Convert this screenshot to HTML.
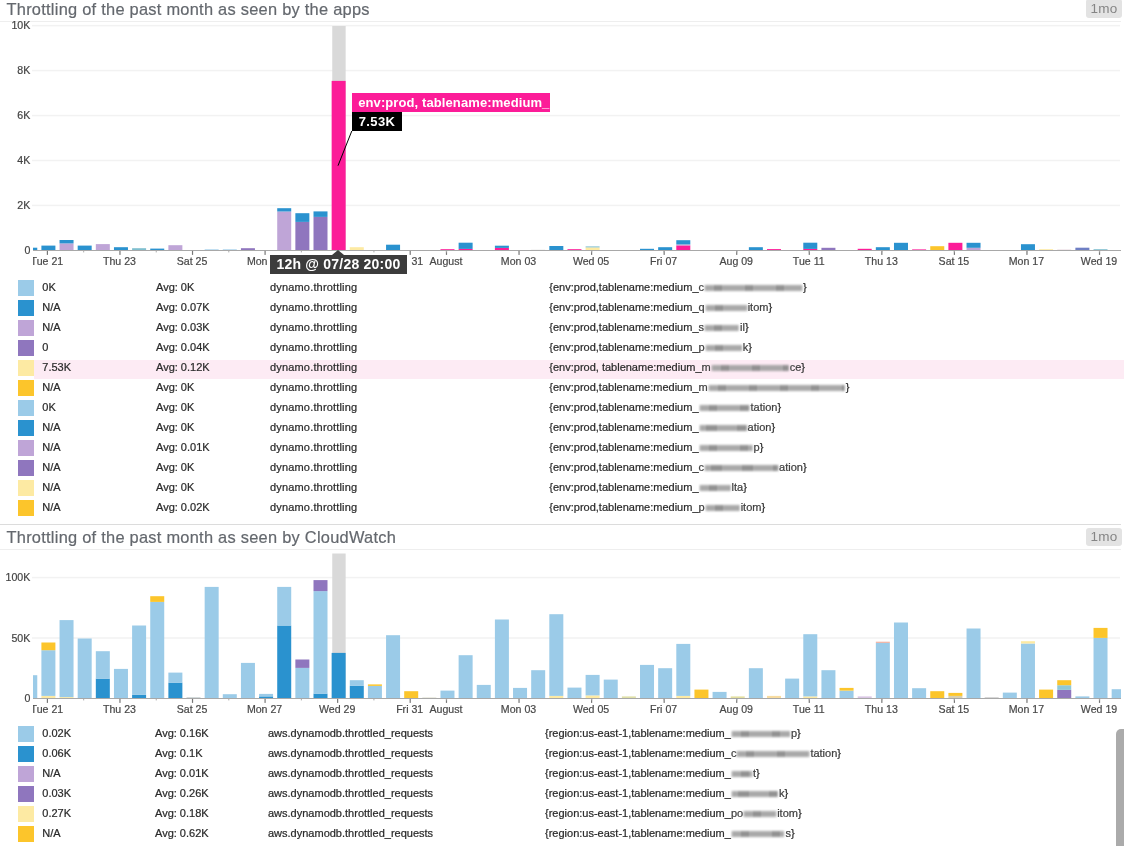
<!DOCTYPE html>
<html lang="en"><head><meta charset="utf-8"><title>Throttling dashboard</title>
<style>
html,body{margin:0;padding:0;background:#fff}
body{width:1124px;height:846px;position:relative;overflow:hidden;font-family:"Liberation Sans",sans-serif;color:#333}
.title{position:absolute;left:6.5px;font-size:16.4px;letter-spacing:.26px;-webkit-text-stroke:.2px #64686e;color:#64686e;white-space:nowrap;line-height:20px}
.badge{position:absolute;left:1086px;width:36px;height:17.5px;background:#e3e3e3;border-radius:3px;color:#858585;font-size:13.5px;line-height:17px;text-align:center;letter-spacing:.3px}
.hr{position:absolute;left:0;width:1121px;height:1px;background:#eeeeee}
.ch{position:absolute;left:0;overflow:visible}
.ch text{font-family:"Liberation Sans",sans-serif}
.xl text{font-size:10.6px;fill:#484848;stroke:#484848;stroke-width:.2px}
.yl text{font-size:10.6px;fill:#444;stroke:#444;stroke-width:.2px}
.leg{position:absolute;left:0;width:1124px;font-size:11px;line-height:20px;color:#2a2a2a;-webkit-text-stroke:.22px #2a2a2a}
.row{position:relative;height:20px;white-space:nowrap}
.row.hl:before{content:"";position:absolute;left:34px;right:0;top:2px;height:19px;background:#fdebf4}
.row span{position:absolute;top:-1.2px}
.row .sw{left:18px;top:2px;width:16.2px;height:16px}
.row .c1{left:42.3px}
.row .c4 .sm{position:static;color:#484848}
.row .c3{letter-spacing:.17px}
.l2 .c3{letter-spacing:0}
.bl{display:inline-block;height:6.5px;background:repeating-linear-gradient(90deg,#6e6e6e 0,#6e6e6e 1.3px,#b9b9b9 1.3px,#b9b9b9 3.1px);filter:blur(.8px);opacity:.9;vertical-align:-0.6px;margin:0 1px}
.tip1{position:absolute;left:351.6px;top:92.6px;width:198.6px;height:19.2px;background:#fc1c98;color:#fff;font-weight:bold;font-size:13px;line-height:19px;letter-spacing:.1px;white-space:nowrap;overflow:hidden}
.tip1 span{position:absolute;left:6.6px;top:.5px}
.tip2{position:absolute;left:351.6px;top:111.8px;width:50px;height:19.2px;background:#000;color:#fff;font-weight:bold;font-size:13px;line-height:19px;letter-spacing:.35px;white-space:nowrap}
.tip2 span{position:absolute;left:7.2px;top:.5px}
.xt{position:absolute;left:269.7px;top:255px;width:137.6px;height:19.2px;background:#3c3c3c;color:#fff;font-weight:bold;font-size:14px;line-height:19px;letter-spacing:.22px;white-space:nowrap;text-align:center;box-shadow:2.5px 0 0 #fff}
.xt:before{content:"";position:absolute;left:62.5px;top:-5.3px;border-left:6px solid transparent;border-right:6px solid transparent;border-bottom:5.4px solid #3c3c3c}
.sb{position:absolute;left:1116px;top:728.5px;width:13px;height:130px;border-radius:5px;background:#ababab}
</style></head>
<body>
<div class="title" style="top:-1.5px">Throttling of the past month as seen by the apps</div>
<div class="badge" style="top:-1px;height:18.5px;line-height:19px">1mo</div>
<div class="hr" style="top:20.5px"></div>
<svg class="ch" style="top:22px" width="1124" height="256" viewBox="0 22 1124 256">
<defs><clipPath id="cp1"><rect x="33" y="22" width="1088" height="256"/></clipPath></defs>
<rect x="32" y="204.7" width="1088" height="1.5" fill="#f2f2f2"/>
<rect x="32" y="159.75" width="1088" height="1.5" fill="#f2f2f2"/>
<rect x="32" y="114.79999999999998" width="1088" height="1.5" fill="#f2f2f2"/>
<rect x="32" y="69.85" width="1088" height="1.5" fill="#f2f2f2"/>
<rect x="32" y="24.900000000000006" width="1088" height="1.5" fill="#f2f2f2"/>
<rect x="332.24" y="26" width="13.40" height="224.40" fill="#d9d9d9"/>
<g clip-path="url(#cp1)">
<rect x="23.26" y="247.70" width="14.0" height="2.70" fill="#2a92cf"/>
<rect x="41.40" y="245.60" width="14.0" height="4.80" fill="#2a92cf"/>
<rect x="59.54" y="243.40" width="14.0" height="7.00" fill="#bfa5d7"/>
<rect x="59.54" y="240.00" width="14.0" height="3.40" fill="#2a92cf"/>
<rect x="77.68" y="245.60" width="14.0" height="4.80" fill="#2a92cf"/>
<rect x="95.82" y="244.10" width="14.0" height="6.30" fill="#bfa5d7"/>
<rect x="113.96" y="247.20" width="14.0" height="3.20" fill="#2a92cf"/>
<rect x="132.10" y="248.20" width="14.0" height="2.20" fill="#7fbfcf"/>
<rect x="150.24" y="248.60" width="14.0" height="1.80" fill="#2a92cf"/>
<rect x="168.38" y="245.20" width="14.0" height="5.20" fill="#bfa5d7"/>
<rect x="204.66" y="249.40" width="14.0" height="1.00" fill="#9bcbe8"/>
<rect x="222.80" y="249.40" width="14.0" height="1.00" fill="#9bcbe8"/>
<rect x="240.94" y="248.20" width="14.0" height="2.20" fill="#8f76be"/>
<rect x="277.22" y="211.50" width="14.0" height="38.90" fill="#bfa5d7"/>
<rect x="277.22" y="208.20" width="14.0" height="3.30" fill="#2a92cf"/>
<rect x="295.36" y="221.90" width="14.0" height="28.50" fill="#8f76be"/>
<rect x="295.36" y="213.20" width="14.0" height="8.70" fill="#2a92cf"/>
<rect x="313.50" y="216.90" width="14.0" height="33.50" fill="#8f76be"/>
<rect x="313.50" y="211.40" width="14.0" height="5.50" fill="#2a92cf"/>
<rect x="331.64" y="80.90" width="14.0" height="169.50" fill="#fc1c98"/>
<rect x="349.78" y="247.20" width="14.0" height="3.20" fill="#fdeaa3"/>
<rect x="386.06" y="244.70" width="14.0" height="5.70" fill="#2a92cf"/>
<rect x="440.48" y="249.20" width="14.0" height="1.20" fill="#fc1c98"/>
<rect x="458.62" y="248.90" width="14.0" height="1.50" fill="#fc1c98"/>
<rect x="458.62" y="242.70" width="14.0" height="6.20" fill="#2a92cf"/>
<rect x="494.90" y="247.90" width="14.0" height="2.50" fill="#fc1c98"/>
<rect x="494.90" y="245.70" width="14.0" height="2.20" fill="#2a92cf"/>
<rect x="531.18" y="249.80" width="14.0" height="0.60" fill="#cfcfcf"/>
<rect x="549.32" y="246.00" width="14.0" height="4.40" fill="#2a92cf"/>
<rect x="567.46" y="249.20" width="14.0" height="1.20" fill="#fc1c98"/>
<rect x="585.60" y="247.40" width="14.0" height="3.00" fill="#fdeaa3"/>
<rect x="585.60" y="246.40" width="14.0" height="1.00" fill="#7fbfcf"/>
<rect x="640.02" y="248.80" width="14.0" height="1.60" fill="#2a92cf"/>
<rect x="658.16" y="247.20" width="14.0" height="3.20" fill="#2a92cf"/>
<rect x="676.30" y="245.40" width="14.0" height="5.00" fill="#fc1c98"/>
<rect x="676.30" y="244.40" width="14.0" height="1.00" fill="#bfa5d7"/>
<rect x="676.30" y="240.20" width="14.0" height="4.20" fill="#2a92cf"/>
<rect x="748.86" y="247.20" width="14.0" height="3.20" fill="#2a92cf"/>
<rect x="767.00" y="249.10" width="14.0" height="1.30" fill="#fc1c98"/>
<rect x="803.28" y="248.90" width="14.0" height="1.50" fill="#fc1c98"/>
<rect x="803.28" y="242.70" width="14.0" height="6.20" fill="#2a92cf"/>
<rect x="821.42" y="247.80" width="14.0" height="2.60" fill="#8f76be"/>
<rect x="857.70" y="248.80" width="14.0" height="1.60" fill="#fc1c98"/>
<rect x="875.84" y="247.20" width="14.0" height="3.20" fill="#2a92cf"/>
<rect x="893.98" y="242.80" width="14.0" height="7.60" fill="#2a92cf"/>
<rect x="912.12" y="249.40" width="14.0" height="1.00" fill="#fc1c98"/>
<rect x="930.26" y="246.20" width="14.0" height="4.20" fill="#fcc52b"/>
<rect x="948.40" y="242.80" width="14.0" height="7.60" fill="#fc1c98"/>
<rect x="966.54" y="247.80" width="14.0" height="2.60" fill="#bfa5d7"/>
<rect x="966.54" y="242.80" width="14.0" height="5.00" fill="#2a92cf"/>
<rect x="1020.96" y="244.20" width="14.0" height="6.20" fill="#2a92cf"/>
<rect x="1039.10" y="249.20" width="14.0" height="1.20" fill="#fdeaa3"/>
<rect x="1057.24" y="249.70" width="14.0" height="0.70" fill="#d8b8c8"/>
<rect x="1075.38" y="247.70" width="14.0" height="2.70" fill="#6f7fc4"/>
<rect x="1093.52" y="249.20" width="14.0" height="1.20" fill="#7fbfcf"/>
</g>
<rect x="33" y="250" width="1088" height="1" fill="#a8a8a8"/>
<rect x="46.80" y="250.90" width="1.2" height="4" fill="#777"/>
<rect x="119.36" y="250.90" width="1.2" height="4" fill="#777"/>
<rect x="191.92" y="250.90" width="1.2" height="4" fill="#777"/>
<rect x="264.48" y="250.90" width="1.2" height="4" fill="#777"/>
<rect x="337.04" y="250.90" width="1.2" height="4" fill="#777"/>
<rect x="409.60" y="250.90" width="1.2" height="4" fill="#777"/>
<rect x="445.88" y="250.90" width="1.2" height="4" fill="#777"/>
<rect x="518.44" y="250.90" width="1.2" height="4" fill="#777"/>
<rect x="591.00" y="250.90" width="1.2" height="4" fill="#777"/>
<rect x="663.56" y="250.90" width="1.2" height="4" fill="#777"/>
<rect x="736.12" y="250.90" width="1.2" height="4" fill="#777"/>
<rect x="808.68" y="250.90" width="1.2" height="4" fill="#777"/>
<rect x="881.24" y="250.90" width="1.2" height="4" fill="#777"/>
<rect x="953.80" y="250.90" width="1.2" height="4" fill="#777"/>
<rect x="1026.36" y="250.90" width="1.2" height="4" fill="#777"/>
<rect x="1098.92" y="250.90" width="1.2" height="4" fill="#777"/>
<rect x="83.18" y="250.90" width="1" height="1.5" fill="#aaa"/>
<rect x="155.74" y="250.90" width="1" height="1.5" fill="#aaa"/>
<rect x="228.30" y="250.90" width="1" height="1.5" fill="#aaa"/>
<rect x="300.86" y="250.90" width="1" height="1.5" fill="#aaa"/>
<rect x="373.42" y="250.90" width="1" height="1.5" fill="#aaa"/>
<rect x="445.98" y="250.90" width="1" height="1.5" fill="#aaa"/>
<rect x="518.54" y="250.90" width="1" height="1.5" fill="#aaa"/>
<rect x="591.10" y="250.90" width="1" height="1.5" fill="#aaa"/>
<rect x="663.66" y="250.90" width="1" height="1.5" fill="#aaa"/>
<rect x="736.22" y="250.90" width="1" height="1.5" fill="#aaa"/>
<rect x="808.78" y="250.90" width="1" height="1.5" fill="#aaa"/>
<rect x="881.34" y="250.90" width="1" height="1.5" fill="#aaa"/>
<rect x="953.90" y="250.90" width="1" height="1.5" fill="#aaa"/>
<rect x="1026.46" y="250.90" width="1" height="1.5" fill="#aaa"/>
<rect x="1099.02" y="250.90" width="1" height="1.5" fill="#aaa"/>
<g clip-path="url(#cp1)" class="xl">
<text x="46.90" y="264.70" text-anchor="middle">Tue 21</text>
<text x="119.46" y="264.70" text-anchor="middle">Thu 23</text>
<text x="192.02" y="264.70" text-anchor="middle">Sat 25</text>
<text x="264.58" y="264.70" text-anchor="middle">Mon 27</text>
<text x="409.70" y="264.70" text-anchor="middle">Fri 31</text>
<text x="445.98" y="264.70" text-anchor="middle">August</text>
<text x="518.54" y="264.70" text-anchor="middle">Mon 03</text>
<text x="591.10" y="264.70" text-anchor="middle">Wed 05</text>
<text x="663.66" y="264.70" text-anchor="middle">Fri 07</text>
<text x="736.22" y="264.70" text-anchor="middle">Aug 09</text>
<text x="808.78" y="264.70" text-anchor="middle">Tue 11</text>
<text x="881.34" y="264.70" text-anchor="middle">Thu 13</text>
<text x="953.90" y="264.70" text-anchor="middle">Sat 15</text>
<text x="1026.46" y="264.70" text-anchor="middle">Mon 17</text>
<text x="1099.02" y="264.70" text-anchor="middle">Wed 19</text>
</g>
<g class="yl">
<text x="30.3" y="253.90" text-anchor="end">0</text>
<text x="30.3" y="208.95" text-anchor="end">2K</text>
<text x="30.3" y="164.00" text-anchor="end">4K</text>
<text x="30.3" y="119.05" text-anchor="end">6K</text>
<text x="30.3" y="74.10" text-anchor="end">8K</text>
<text x="30.3" y="29.15" text-anchor="end">10K</text>
</g>
</svg>
<svg class="ch" style="top:0" width="1124" height="300"><line x1="351.8" y1="131" x2="338" y2="165.7" stroke="#000" stroke-width="1"/></svg>
<div class="tip1"><span>env:prod, tablename:medium_</span></div>
<div class="tip2"><span>7.53K</span></div>
<div class="xt">12h @ 07/28 20:00</div>
<div class="leg " style="top:278px">
<div class="row"><span class="sw" style="background:#9bcbe8"></span><span class="c1">0K</span><span class="c2" style="left:156px">Avg: 0K</span><span class="c3" style="left:270px">dynamo.throttling</span><span class="c4" style="left:549.3px">{env:prod,tablename:medium_<span class="sm">c<i class="bl" style="width:97px"></i></span>}</span></div>
<div class="row"><span class="sw" style="background:#2a92cf"></span><span class="c1">N/A</span><span class="c2" style="left:156px">Avg: 0.07K</span><span class="c3" style="left:270px">dynamo.throttling</span><span class="c4" style="left:549.3px">{env:prod,tablename:medium_<span class="sm">q<i class="bl" style="width:41px"></i>itom</span>}</span></div>
<div class="row"><span class="sw" style="background:#bfa5d7"></span><span class="c1">N/A</span><span class="c2" style="left:156px">Avg: 0.03K</span><span class="c3" style="left:270px">dynamo.throttling</span><span class="c4" style="left:549.3px">{env:prod,tablename:medium_<span class="sm">s<i class="bl" style="width:34px"></i>il</span>}</span></div>
<div class="row"><span class="sw" style="background:#8f76be"></span><span class="c1">0</span><span class="c2" style="left:156px">Avg: 0.04K</span><span class="c3" style="left:270px">dynamo.throttling</span><span class="c4" style="left:549.3px">{env:prod,tablename:medium_<span class="sm">p<i class="bl" style="width:36px"></i>k</span>}</span></div>
<div class="row hl"><span class="sw" style="background:#fdeaa3"></span><span class="c1">7.53K</span><span class="c2" style="left:156px">Avg: 0.12K</span><span class="c3" style="left:270px">dynamo.throttling</span><span class="c4" style="left:549.3px">{env:prod, tablename:medium_<span class="sm">m<i class="bl" style="width:77px"></i>ce</span>}</span></div>
<div class="row"><span class="sw" style="background:#fcc52b"></span><span class="c1">N/A</span><span class="c2" style="left:156px">Avg: 0K</span><span class="c3" style="left:270px">dynamo.throttling</span><span class="c4" style="left:549.3px">{env:prod,tablename:medium_<span class="sm">m<i class="bl" style="width:136px"></i></span>}</span></div>
<div class="row"><span class="sw" style="background:#9bcbe8"></span><span class="c1">0K</span><span class="c2" style="left:156px">Avg: 0K</span><span class="c3" style="left:270px">dynamo.throttling</span><span class="c4" style="left:549.3px">{env:prod,tablename:medium_<span class="sm"><i class="bl" style="width:50px"></i>tation</span>}</span></div>
<div class="row"><span class="sw" style="background:#2a92cf"></span><span class="c1">N/A</span><span class="c2" style="left:156px">Avg: 0K</span><span class="c3" style="left:270px">dynamo.throttling</span><span class="c4" style="left:549.3px">{env:prod,tablename:medium_<span class="sm"><i class="bl" style="width:47px"></i>ation</span>}</span></div>
<div class="row"><span class="sw" style="background:#bfa5d7"></span><span class="c1">N/A</span><span class="c2" style="left:156px">Avg: 0.01K</span><span class="c3" style="left:270px">dynamo.throttling</span><span class="c4" style="left:549.3px">{env:prod,tablename:medium_<span class="sm"><i class="bl" style="width:53px"></i>p</span>}</span></div>
<div class="row"><span class="sw" style="background:#8f76be"></span><span class="c1">N/A</span><span class="c2" style="left:156px">Avg: 0K</span><span class="c3" style="left:270px">dynamo.throttling</span><span class="c4" style="left:549.3px">{env:prod,tablename:medium_<span class="sm">c<i class="bl" style="width:73px"></i>ation</span>}</span></div>
<div class="row"><span class="sw" style="background:#fdeaa3"></span><span class="c1">N/A</span><span class="c2" style="left:156px">Avg: 0K</span><span class="c3" style="left:270px">dynamo.throttling</span><span class="c4" style="left:549.3px">{env:prod,tablename:medium_<span class="sm"><i class="bl" style="width:31px"></i>lta</span>}</span></div>
<div class="row"><span class="sw" style="background:#fcc52b"></span><span class="c1">N/A</span><span class="c2" style="left:156px">Avg: 0.02K</span><span class="c3" style="left:270px">dynamo.throttling</span><span class="c4" style="left:549.3px">{env:prod,tablename:medium_<span class="sm">p<i class="bl" style="width:34px"></i>itom</span>}</span></div>
</div>
<div class="hr" style="top:523.7px;background:#dcdcdc"></div>
<div class="title" style="top:526.7px">Throttling of the past month as seen by CloudWatch</div>
<div class="badge" style="top:528px">1mo</div>
<div class="hr" style="top:548.8px"></div>
<svg class="ch" style="top:550px" width="1124" height="176" viewBox="0 550 1124 176">
<defs><clipPath id="cp2"><rect x="33" y="550" width="1088" height="176"/></clipPath></defs>
<rect x="32" y="637.25" width="1088" height="1.5" fill="#f2f2f2"/>
<rect x="32" y="576.85" width="1088" height="1.5" fill="#f2f2f2"/>
<rect x="332.24" y="553.5" width="13.40" height="144.90" fill="#d9d9d9"/>
<g clip-path="url(#cp2)">
<rect x="23.26" y="675.20" width="14.0" height="23.20" fill="#9bcbe8"/>
<rect x="41.40" y="695.90" width="14.0" height="2.50" fill="#fdeaa3"/>
<rect x="41.40" y="650.20" width="14.0" height="45.70" fill="#9bcbe8"/>
<rect x="41.40" y="642.50" width="14.0" height="7.70" fill="#fcc52b"/>
<rect x="59.54" y="697.10" width="14.0" height="1.30" fill="#fdeaa3"/>
<rect x="59.54" y="620.10" width="14.0" height="77.00" fill="#9bcbe8"/>
<rect x="77.68" y="638.50" width="14.0" height="59.90" fill="#9bcbe8"/>
<rect x="95.82" y="678.60" width="14.0" height="19.80" fill="#2a92cf"/>
<rect x="95.82" y="651.20" width="14.0" height="27.40" fill="#9bcbe8"/>
<rect x="113.96" y="668.90" width="14.0" height="29.50" fill="#9bcbe8"/>
<rect x="132.10" y="694.90" width="14.0" height="3.50" fill="#2a92cf"/>
<rect x="132.10" y="625.50" width="14.0" height="69.40" fill="#9bcbe8"/>
<rect x="150.24" y="601.90" width="14.0" height="96.50" fill="#9bcbe8"/>
<rect x="150.24" y="596.20" width="14.0" height="5.70" fill="#fcc52b"/>
<rect x="168.38" y="682.60" width="14.0" height="15.80" fill="#2a92cf"/>
<rect x="168.38" y="672.60" width="14.0" height="10.00" fill="#9bcbe8"/>
<rect x="186.52" y="697.10" width="14.0" height="1.30" fill="#cfd6d8"/>
<rect x="204.66" y="586.90" width="14.0" height="111.50" fill="#9bcbe8"/>
<rect x="222.80" y="694.20" width="14.0" height="4.20" fill="#9bcbe8"/>
<rect x="240.94" y="662.90" width="14.0" height="35.50" fill="#9bcbe8"/>
<rect x="259.08" y="696.40" width="14.0" height="2.00" fill="#2a92cf"/>
<rect x="259.08" y="693.90" width="14.0" height="2.50" fill="#9bcbe8"/>
<rect x="277.22" y="625.50" width="14.0" height="72.90" fill="#2a92cf"/>
<rect x="277.22" y="586.90" width="14.0" height="38.60" fill="#9bcbe8"/>
<rect x="295.36" y="667.90" width="14.0" height="30.50" fill="#9bcbe8"/>
<rect x="295.36" y="659.50" width="14.0" height="8.40" fill="#8f76be"/>
<rect x="313.50" y="693.60" width="14.0" height="4.80" fill="#2a92cf"/>
<rect x="313.50" y="591.10" width="14.0" height="102.50" fill="#9bcbe8"/>
<rect x="313.50" y="580.10" width="14.0" height="11.00" fill="#8f76be"/>
<rect x="331.64" y="652.90" width="14.0" height="45.50" fill="#2a92cf"/>
<rect x="349.78" y="685.90" width="14.0" height="12.50" fill="#2a92cf"/>
<rect x="349.78" y="680.20" width="14.0" height="5.70" fill="#9bcbe8"/>
<rect x="367.92" y="685.90" width="14.0" height="12.50" fill="#9bcbe8"/>
<rect x="367.92" y="684.40" width="14.0" height="1.50" fill="#fcc52b"/>
<rect x="386.06" y="635.20" width="14.0" height="63.20" fill="#9bcbe8"/>
<rect x="404.20" y="691.20" width="14.0" height="7.20" fill="#fcc52b"/>
<rect x="422.34" y="697.30" width="14.0" height="1.10" fill="#e4e4d8"/>
<rect x="440.48" y="690.60" width="14.0" height="7.80" fill="#9bcbe8"/>
<rect x="458.62" y="655.20" width="14.0" height="43.20" fill="#9bcbe8"/>
<rect x="476.76" y="684.90" width="14.0" height="13.50" fill="#9bcbe8"/>
<rect x="494.90" y="619.50" width="14.0" height="78.90" fill="#9bcbe8"/>
<rect x="513.04" y="687.90" width="14.0" height="10.50" fill="#9bcbe8"/>
<rect x="531.18" y="670.20" width="14.0" height="28.20" fill="#9bcbe8"/>
<rect x="549.32" y="695.90" width="14.0" height="2.50" fill="#fdeaa3"/>
<rect x="549.32" y="614.20" width="14.0" height="81.70" fill="#9bcbe8"/>
<rect x="567.46" y="687.60" width="14.0" height="10.80" fill="#9bcbe8"/>
<rect x="585.60" y="695.40" width="14.0" height="3.00" fill="#fdeaa3"/>
<rect x="585.60" y="674.90" width="14.0" height="20.50" fill="#9bcbe8"/>
<rect x="603.74" y="679.60" width="14.0" height="18.80" fill="#9bcbe8"/>
<rect x="621.88" y="696.40" width="14.0" height="2.00" fill="#dfe0a8"/>
<rect x="640.02" y="664.90" width="14.0" height="33.50" fill="#9bcbe8"/>
<rect x="658.16" y="668.20" width="14.0" height="30.20" fill="#9bcbe8"/>
<rect x="676.30" y="695.90" width="14.0" height="2.50" fill="#fdeaa3"/>
<rect x="676.30" y="643.90" width="14.0" height="52.00" fill="#9bcbe8"/>
<rect x="694.44" y="689.60" width="14.0" height="8.80" fill="#fcc52b"/>
<rect x="712.58" y="691.90" width="14.0" height="6.50" fill="#9bcbe8"/>
<rect x="730.72" y="696.40" width="14.0" height="2.00" fill="#e3dfa0"/>
<rect x="748.86" y="668.20" width="14.0" height="30.20" fill="#9bcbe8"/>
<rect x="767.00" y="695.90" width="14.0" height="2.50" fill="#f8dca0"/>
<rect x="785.14" y="678.60" width="14.0" height="19.80" fill="#9bcbe8"/>
<rect x="803.28" y="696.40" width="14.0" height="2.00" fill="#fdeaa3"/>
<rect x="803.28" y="634.20" width="14.0" height="62.20" fill="#9bcbe8"/>
<rect x="821.42" y="670.20" width="14.0" height="28.20" fill="#9bcbe8"/>
<rect x="839.56" y="690.60" width="14.0" height="7.80" fill="#9bcbe8"/>
<rect x="839.56" y="687.90" width="14.0" height="2.70" fill="#fcc52b"/>
<rect x="857.70" y="696.40" width="14.0" height="2.00" fill="#d9c6e4"/>
<rect x="875.84" y="642.90" width="14.0" height="55.50" fill="#9bcbe8"/>
<rect x="875.84" y="641.70" width="14.0" height="1.20" fill="#f0b0a0"/>
<rect x="893.98" y="622.50" width="14.0" height="75.90" fill="#9bcbe8"/>
<rect x="912.12" y="688.20" width="14.0" height="10.20" fill="#9bcbe8"/>
<rect x="930.26" y="691.20" width="14.0" height="7.20" fill="#fcc52b"/>
<rect x="948.40" y="695.90" width="14.0" height="2.50" fill="#d8d0b0"/>
<rect x="948.40" y="692.90" width="14.0" height="3.00" fill="#fcc52b"/>
<rect x="966.54" y="628.50" width="14.0" height="69.90" fill="#9bcbe8"/>
<rect x="984.68" y="697.10" width="14.0" height="1.30" fill="#d4d4d4"/>
<rect x="1002.82" y="692.60" width="14.0" height="5.80" fill="#9bcbe8"/>
<rect x="1020.96" y="643.50" width="14.0" height="54.90" fill="#9bcbe8"/>
<rect x="1020.96" y="641.20" width="14.0" height="2.30" fill="#fdeaa3"/>
<rect x="1039.10" y="689.60" width="14.0" height="8.80" fill="#fcc52b"/>
<rect x="1057.24" y="689.90" width="14.0" height="8.50" fill="#8f76be"/>
<rect x="1057.24" y="685.20" width="14.0" height="4.70" fill="#8fc8d8"/>
<rect x="1057.24" y="680.20" width="14.0" height="5.00" fill="#fcc52b"/>
<rect x="1075.38" y="696.40" width="14.0" height="2.00" fill="#9bcbe8"/>
<rect x="1093.52" y="637.90" width="14.0" height="60.50" fill="#9bcbe8"/>
<rect x="1093.52" y="627.90" width="14.0" height="10.00" fill="#fcc52b"/>
<rect x="1111.66" y="689.20" width="14.0" height="9.20" fill="#9bcbe8"/>
</g>
<rect x="33" y="698" width="1088" height="1" fill="#a8a8a8"/>
<rect x="46.80" y="698.90" width="1.2" height="4" fill="#777"/>
<rect x="119.36" y="698.90" width="1.2" height="4" fill="#777"/>
<rect x="191.92" y="698.90" width="1.2" height="4" fill="#777"/>
<rect x="264.48" y="698.90" width="1.2" height="4" fill="#777"/>
<rect x="337.04" y="698.90" width="1.2" height="4" fill="#777"/>
<rect x="409.60" y="698.90" width="1.2" height="4" fill="#777"/>
<rect x="445.88" y="698.90" width="1.2" height="4" fill="#777"/>
<rect x="518.44" y="698.90" width="1.2" height="4" fill="#777"/>
<rect x="591.00" y="698.90" width="1.2" height="4" fill="#777"/>
<rect x="663.56" y="698.90" width="1.2" height="4" fill="#777"/>
<rect x="736.12" y="698.90" width="1.2" height="4" fill="#777"/>
<rect x="808.68" y="698.90" width="1.2" height="4" fill="#777"/>
<rect x="881.24" y="698.90" width="1.2" height="4" fill="#777"/>
<rect x="953.80" y="698.90" width="1.2" height="4" fill="#777"/>
<rect x="1026.36" y="698.90" width="1.2" height="4" fill="#777"/>
<rect x="1098.92" y="698.90" width="1.2" height="4" fill="#777"/>
<rect x="83.18" y="698.90" width="1" height="1.5" fill="#aaa"/>
<rect x="155.74" y="698.90" width="1" height="1.5" fill="#aaa"/>
<rect x="228.30" y="698.90" width="1" height="1.5" fill="#aaa"/>
<rect x="300.86" y="698.90" width="1" height="1.5" fill="#aaa"/>
<rect x="373.42" y="698.90" width="1" height="1.5" fill="#aaa"/>
<rect x="445.98" y="698.90" width="1" height="1.5" fill="#aaa"/>
<rect x="518.54" y="698.90" width="1" height="1.5" fill="#aaa"/>
<rect x="591.10" y="698.90" width="1" height="1.5" fill="#aaa"/>
<rect x="663.66" y="698.90" width="1" height="1.5" fill="#aaa"/>
<rect x="736.22" y="698.90" width="1" height="1.5" fill="#aaa"/>
<rect x="808.78" y="698.90" width="1" height="1.5" fill="#aaa"/>
<rect x="881.34" y="698.90" width="1" height="1.5" fill="#aaa"/>
<rect x="953.90" y="698.90" width="1" height="1.5" fill="#aaa"/>
<rect x="1026.46" y="698.90" width="1" height="1.5" fill="#aaa"/>
<rect x="1099.02" y="698.90" width="1" height="1.5" fill="#aaa"/>
<g clip-path="url(#cp2)" class="xl">
<text x="46.90" y="712.70" text-anchor="middle">Tue 21</text>
<text x="119.46" y="712.70" text-anchor="middle">Thu 23</text>
<text x="192.02" y="712.70" text-anchor="middle">Sat 25</text>
<text x="264.58" y="712.70" text-anchor="middle">Mon 27</text>
<text x="337.14" y="712.70" text-anchor="middle">Wed 29</text>
<text x="409.70" y="712.70" text-anchor="middle">Fri 31</text>
<text x="445.98" y="712.70" text-anchor="middle">August</text>
<text x="518.54" y="712.70" text-anchor="middle">Mon 03</text>
<text x="591.10" y="712.70" text-anchor="middle">Wed 05</text>
<text x="663.66" y="712.70" text-anchor="middle">Fri 07</text>
<text x="736.22" y="712.70" text-anchor="middle">Aug 09</text>
<text x="808.78" y="712.70" text-anchor="middle">Tue 11</text>
<text x="881.34" y="712.70" text-anchor="middle">Thu 13</text>
<text x="953.90" y="712.70" text-anchor="middle">Sat 15</text>
<text x="1026.46" y="712.70" text-anchor="middle">Mon 17</text>
<text x="1099.02" y="712.70" text-anchor="middle">Wed 19</text>
</g>
<g class="yl">
<text x="30.3" y="701.90" text-anchor="end">0</text>
<text x="30.3" y="641.50" text-anchor="end">50K</text>
<text x="30.3" y="581.10" text-anchor="end">100K</text>
</g>
</svg>
<div class="leg l2" style="top:724px">
<div class="row"><span class="sw" style="background:#9bcbe8"></span><span class="c1">0.02K</span><span class="c2" style="left:155px">Avg: 0.16K</span><span class="c3" style="left:268px">aws.dynamodb.throttled_requests</span><span class="c4" style="left:545px">{region:us-east-1,tablename:medium_<span class="sm"><i class="bl" style="width:58px"></i>p</span>}</span></div>
<div class="row"><span class="sw" style="background:#2a92cf"></span><span class="c1">0.06K</span><span class="c2" style="left:155px">Avg: 0.1K</span><span class="c3" style="left:268px">aws.dynamodb.throttled_requests</span><span class="c4" style="left:545px">{region:us-east-1,tablename:medium_<span class="sm">c<i class="bl" style="width:72px"></i>tation</span>}</span></div>
<div class="row"><span class="sw" style="background:#bfa5d7"></span><span class="c1">N/A</span><span class="c2" style="left:155px">Avg: 0.01K</span><span class="c3" style="left:268px">aws.dynamodb.throttled_requests</span><span class="c4" style="left:545px">{region:us-east-1,tablename:medium_<span class="sm"><i class="bl" style="width:20px"></i>t</span>}</span></div>
<div class="row"><span class="sw" style="background:#8f76be"></span><span class="c1">0.03K</span><span class="c2" style="left:155px">Avg: 0.26K</span><span class="c3" style="left:268px">aws.dynamodb.throttled_requests</span><span class="c4" style="left:545px">{region:us-east-1,tablename:medium_<span class="sm"><i class="bl" style="width:46px"></i>k</span>}</span></div>
<div class="row"><span class="sw" style="background:#fdeaa3"></span><span class="c1">0.27K</span><span class="c2" style="left:155px">Avg: 0.18K</span><span class="c3" style="left:268px">aws.dynamodb.throttled_requests</span><span class="c4" style="left:545px">{region:us-east-1,tablename:medium_<span class="sm">po<i class="bl" style="width:32px"></i>itom</span>}</span></div>
<div class="row"><span class="sw" style="background:#fcc52b"></span><span class="c1">N/A</span><span class="c2" style="left:155px">Avg: 0.62K</span><span class="c3" style="left:268px">aws.dynamodb.throttled_requests</span><span class="c4" style="left:545px">{region:us-east-1,tablename:medium_<span class="sm"><i class="bl" style="width:52.5px"></i>s</span>}</span></div>
</div>
<div class="sb"></div>
</body></html>
